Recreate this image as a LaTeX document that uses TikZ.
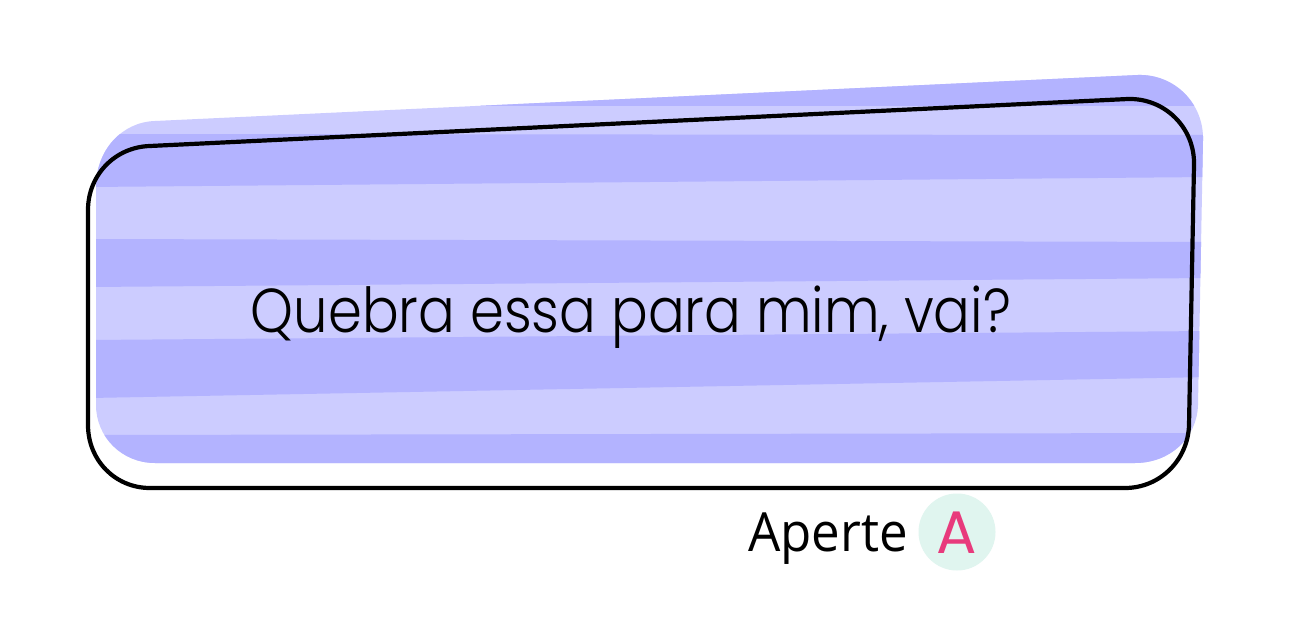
\documentclass[tikz,border=0pt]{standalone}
\usepackage{fontspec}
\newfontfamily\headfont[UprightFont=* Light,FakeStretch=0.878]{Poppins}
\newfontfamily\hintfont[FakeStretch=0.945]{Open Sans}
\newfontfamily\keyfont{Poppins}
\definecolor{stripeLight}{HTML}{CCCCFF}
\definecolor{stripeDark}{HTML}{B3B3FF}
\definecolor{keyBack}{HTML}{E0F5EF}
\definecolor{keyInk}{HTML}{E83A7C}
\tikzset{
  x=1pt,y=-1pt,
  stripe/.style={fill=stripeDark,draw=none},
  outline/.style={draw=black,line width=4.2pt,line join=round},
  headtext/.style={inner sep=0pt,text=black,font=\headfont\fontsize{62}{70}\selectfont},
  hinttext/.style={inner sep=0pt,text=black,font=\hintfont\fontsize{54}{60}\selectfont},
  keytext/.style={inner sep=0pt,text=keyInk,font=\keyfont\fontsize{60}{66}\selectfont},
}
\begin{document}
\begin{tikzpicture}
\useasboundingbox (0,0) rectangle (1290,620);
\fill[white] (0,0) rectangle (1290,620);
\def\backshape{(155,121) -- (1138,75) .. controls (1175,74) and (1204,104) .. (1203,140)
  -- (1198,405) .. controls (1197,438) and (1170,463) .. (1135,463)
  -- (155,463) .. controls (122,463) and (96,437) .. (96,405)
  -- (96,187) .. controls (96,150) and (122,122) .. (155,121) -- cycle}
\fill[stripeLight] \backshape;
\begin{scope}
\clip \backshape;
\fill[stripe] (480,60) -- (1210,60) -- (1210,106) -- (480,106) -- cycle;
\fill[stripe] (90,134) -- (1210,135) -- (1210,177) -- (90,187) -- cycle;
\fill[stripe] (90,239) -- (1210,242) -- (1210,278) -- (90,287) -- cycle;
\fill[stripe] (90,340) -- (1210,331) -- (1210,377) -- (90,398) -- cycle;
\fill[stripe] (90,435) -- (1210,433) -- (1210,470) -- (90,470) -- cycle;
\end{scope}
\draw[outline] (150,146) -- (1128,99) .. controls (1165,98) and (1195,128) .. (1194,165)
  -- (1189,425) .. controls (1188,460) and (1160,488) .. (1125,488)
  -- (150,488) .. controls (115,488) and (88,460) .. (88,425)
  -- (88,210) .. controls (88,175) and (115,147) .. (150,146) -- cycle;
\node[headtext,anchor=base] (question) at (631,332) {Quebra essa para mim, vai?};
\node[hinttext,anchor=base west] (hint) at (748,551) {Aperte};
\node[circle,fill=keyBack,minimum size=77pt,inner sep=0pt] (keydisc) at (957,532) {};
\node[keytext,anchor=base] (keyletter) at (957,553) {A};
\end{tikzpicture}
\end{document}
